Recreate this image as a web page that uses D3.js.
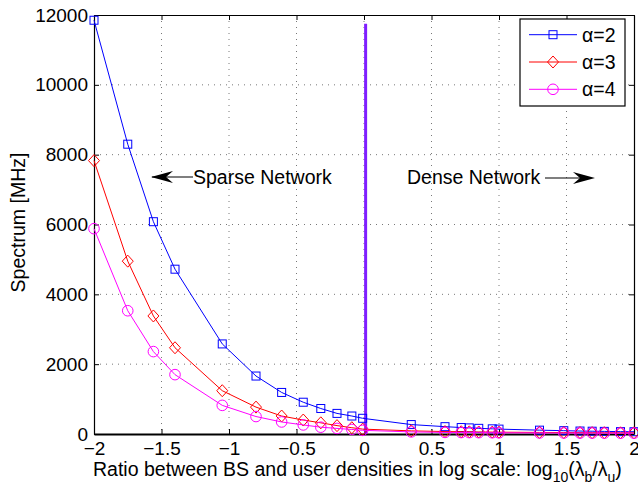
<!DOCTYPE html>
<html>
<head>
<meta charset="utf-8">
<script src="https://cdn.jsdelivr.net/npm/d3@7"></script>
<style>
body { margin: 0; background: #fff; }
text { font-family: "Liberation Sans", Arial, Helvetica, sans-serif; }
</style>
</head>
<body>
<div id="my_dataviz"></div>
<script>
// data
var ratioLog = [-2, -1.75, -1.56, -1.40, -1.05, -0.80, -0.61, -0.45, -0.32, -0.20, -0.09, -0.01,
  0.35, 0.60, 0.72, 0.78, 0.85, 0.95, 1.00, 1.30, 1.48, 1.60, 1.69, 1.78, 1.90, 2.00];
var alpha2 = [11850, 8300, 6080, 4720, 2580, 1660, 1190, 910, 730, 590, 515, 450,
  270, 210, 185, 175, 162, 148, 140, 110, 95, 85, 80, 75, 68, 65];
var alpha3 = [7830, 4950, 3380, 2470, 1240, 770, 515, 400, 320, 240, 180, 140,
  90, 70, 65, 62, 58, 55, 52, 45, 42, 40, 38, 37, 35, 34];
var alpha4 = [5880, 3530, 2360, 1700, 820, 500, 345, 260, 195, 160, 130, 105,
  60, 45, 42, 40, 38, 36, 34, 30, 28, 27, 26, 25, 24, 23];
var seriesNames = ["α=2", "α=3", "α=4"];
var xTicks = [-2, -1.5, -1, -0.5, 0, 0.5, 1, 1.5, 2];
var yTicks = [0, 2000, 4000, 6000, 8000, 10000, 12000];
var dividerX = 0.012, dividerTop = 11750;

// set the dimensions and margins of the graph
var W = 638, H = 494;
var margin = {top: 15, right: 4, bottom: 60, left: 94},
  width = W - margin.left - margin.right,
  height = H - margin.top - margin.bottom;
var fs = 19.5;

var svg = d3.select("#my_dataviz")
  .append("svg")
  .attr("width", W)
  .attr("height", H)
  .append("g")
  .attr("transform", "translate(" + margin.left + "," + margin.top + ")");

var x = d3.scaleLinear().domain([-2, 2]).range([0, width]);
var y = d3.scaleLinear().domain([0, 12000]).range([height, 0]);

// grid
svg.append("g").selectAll("line")
  .data(xTicks.slice(1, -1))
  .enter().append("line")
  .attr("x1", function(d) { return x(d); }).attr("x2", function(d) { return x(d); })
  .attr("y1", 0).attr("y2", height)
  .attr("stroke", "#555").attr("stroke-width", 0.8).attr("stroke-dasharray", "1,5");
svg.append("g").selectAll("line")
  .data(yTicks.slice(1, -1))
  .enter().append("line")
  .attr("y1", function(d) { return y(d); }).attr("y2", function(d) { return y(d); })
  .attr("x1", 0).attr("x2", width)
  .attr("stroke", "#555").attr("stroke-width", 0.8).attr("stroke-dasharray", "1,5");

// axes (ticks inside, matlab style)
var fmtX = function(d) { return d3.format("")(d).replace("-", "\u2212"); };
var xAxis = svg.append("g")
  .attr("transform", "translate(0," + height + ")")
  .call(d3.axisBottom(x).tickValues(xTicks).tickFormat(fmtX).tickSizeInner(-5).tickSizeOuter(0).tickPadding(8));
var yAxis = svg.append("g")
  .call(d3.axisLeft(y).tickValues(yTicks).tickFormat(d3.format("")).tickSizeInner(-5).tickSizeOuter(0).tickPadding(6));
svg.append("g")
  .call(d3.axisTop(x).tickValues(xTicks).tickFormat("").tickSizeInner(-5).tickSizeOuter(0));
svg.append("g")
  .attr("transform", "translate(" + width + ",0)")
  .call(d3.axisRight(y).tickValues(yTicks).tickFormat("").tickSizeInner(-5).tickSizeOuter(0));
svg.selectAll(".tick text").attr("font-size", 19).attr("fill", "#000")
  .style("font-family", "'Liberation Sans', Arial, sans-serif");
svg.selectAll(".domain").attr("stroke", "#000").attr("stroke-width", 1.2);
svg.selectAll(".tick line").attr("stroke", "#000");
xAxis.select(".domain").attr("stroke-width", 2);

// the divider line
svg.append("line")
  .attr("x1", x(dividerX)).attr("x2", x(dividerX))
  .attr("y1", y(0)).attr("y2", y(dividerTop))
  .attr("stroke", "#7f1fff").attr("stroke-width", 3);

// series
var series = [
  {name: seriesNames[0], values: alpha2, color: "#0000ff", marker: "square"},
  {name: seriesNames[1], values: alpha3, color: "#ff0000", marker: "diamond"},
  {name: seriesNames[2], values: alpha4, color: "#ff00ff", marker: "circle"}
];

var line = d3.line()
  .x(function(d) { return x(d[0]); })
  .y(function(d) { return y(d[1]); });

function drawMarker(g, type, color) {
  if (type == "square") {
    g.append("rect").attr("x", -4).attr("y", -4).attr("width", 8).attr("height", 8)
      .attr("fill", "none").attr("stroke", color).attr("stroke-width", 1);
  } else if (type == "diamond") {
    g.append("path").attr("d", "M0,-6L5.5,0L0,6L-5.5,0Z")
      .attr("fill", "none").attr("stroke", color).attr("stroke-width", 1);
  } else {
    g.append("circle").attr("r", 5.3)
      .attr("fill", "none").attr("stroke", color).attr("stroke-width", 1);
  }
}

series.forEach(function(s) {
  var pts = ratioLog.map(function(v, i) { return [v, s.values[i]]; });
  svg.append("path")
    .datum(pts)
    .attr("fill", "none")
    .attr("stroke", s.color)
    .attr("stroke-width", 1)
    .attr("d", line);
  svg.append("g").selectAll("g")
    .data(pts)
    .enter().append("g")
    .attr("transform", function(d) { return "translate(" + x(d[0]) + "," + y(d[1]) + ")"; })
    .each(function() { drawMarker(d3.select(this), s.marker, s.color); });
});

// annotations
function arrowHead(g, tipX, tipY, dir) {
  // dir: -1 points left, 1 points right
  var L = 22, w = 6, n = 15;
  g.append("path")
    .attr("d", "M" + tipX + "," + tipY +
      "L" + (tipX - dir * L) + "," + (tipY - w) +
      "L" + (tipX - dir * n) + "," + tipY +
      "L" + (tipX - dir * L) + "," + (tipY + w) + "Z")
    .attr("fill", "#000");
}
var ann = svg.append("g");
ann.append("line").attr("x1", 152 - margin.left).attr("x2", 193 - margin.left)
  .attr("y1", 177 - margin.top).attr("y2", 177 - margin.top)
  .attr("stroke", "#000").attr("stroke-width", 1.2);
arrowHead(ann, 151 - margin.left, 177 - margin.top, -1);
ann.append("text").attr("x", 193 - margin.left).attr("y", 184 - margin.top)
  .attr("font-size", fs).text("Sparse Network");

ann.append("text").attr("x", 407 - margin.left).attr("y", 184 - margin.top)
  .attr("font-size", fs).text("Dense Network");
ann.append("line").attr("x1", 545 - margin.left).attr("x2", 590 - margin.left)
  .attr("y1", 178 - margin.top).attr("y2", 178 - margin.top)
  .attr("stroke", "#000").attr("stroke-width", 1.2);
arrowHead(ann, 595 - margin.left, 178 - margin.top, 1);

// legend
var lg = svg.append("g").attr("transform", "translate(" + (520 - margin.left) + "," + (19 - margin.top) + ")");
lg.append("rect").attr("width", 105).attr("height", 87)
  .attr("fill", "#fff").attr("stroke", "#000").attr("stroke-width", 1.2);
series.forEach(function(s, i) {
  var ly = 15.7 + i * 27.3;
  lg.append("line").attr("x1", 9).attr("x2", 57).attr("y1", ly).attr("y2", ly)
    .attr("stroke", s.color).attr("stroke-width", 1);
  var m = lg.append("g").attr("transform", "translate(33," + ly + ")");
  drawMarker(m, s.marker, s.color);
  lg.append("text").attr("x", 62).attr("y", ly + 7).attr("font-size", fs).text(s.name);
});

// axis labels
var xl = svg.append("text")
  .attr("x", 93 - margin.left).attr("y", 476 - margin.top)
  .attr("font-size", fs);
xl.append("tspan").text("Ratio between BS and user densities in log scale: log");
xl.append("tspan").attr("font-size", 14).attr("dy", 6).text("10");
xl.append("tspan").attr("dy", -6).text("(λ");
xl.append("tspan").attr("font-size", 14).attr("dy", 6).text("b");
xl.append("tspan").attr("dy", -6).text("/λ");
xl.append("tspan").attr("font-size", 14).attr("dy", 6).text("u");
xl.append("tspan").attr("dy", -6).text(")");

svg.append("text")
  .attr("transform", "translate(" + (25 - margin.left) + "," + (height / 2 - 2) + ") rotate(-90)")
  .attr("text-anchor", "middle").attr("font-size", fs)
  .text("Spectrum [MHz]");
</script>
</body>
</html>
